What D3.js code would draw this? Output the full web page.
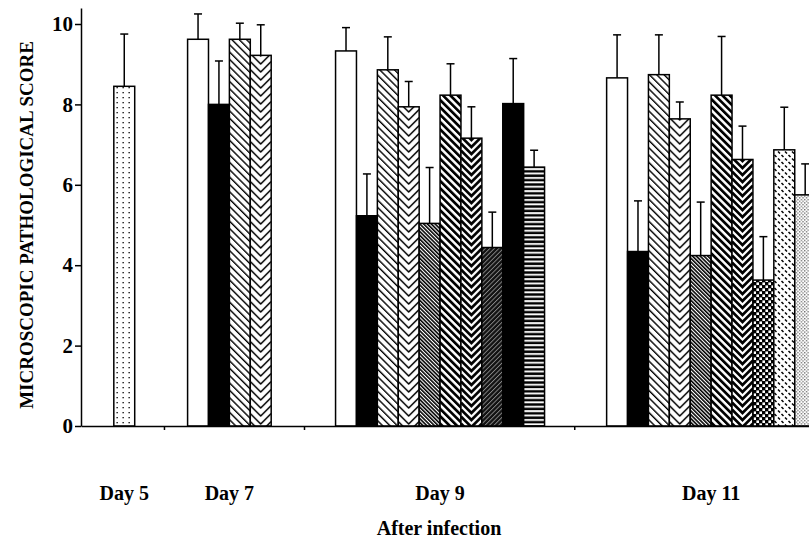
<!DOCTYPE html>
<html>
<head>
<meta charset="utf-8">
<script src="https://cdn.jsdelivr.net/npm/d3@7"></script>
<style>
  html, body { margin: 0; padding: 0; background: #fff; }
  svg { display: block; }
  text { font-family: "Liberation Serif", "Times New Roman", serif; font-weight: bold; fill: #000; }
</style>
</head>
<body>
<script>
// ---------------- DATA ----------------
const days = ["Day 5", "Day 7", "Day 9", "Day 11"];
const yTicks = [0, 2, 4, 6, 8, 10];
const yTitle = "MICROSCOPIC PATHOLOGICAL SCORE";
const xTitle = "After infection";

const day5Scores = [8.45];
const day5Errors = [1.30];
const day5Fills = ["dots"];

const day7Scores = [9.62, 8.00, 9.62, 9.22];
const day7Errors = [0.63, 1.08, 0.40, 0.76];
const day7Fills = ["open", "solid", "hatch", "chevron"];

const day9Scores = [9.33, 5.23, 8.86, 7.94, 5.04, 8.23, 7.16, 4.44, 8.02, 6.44];
const day9Errors = [0.58, 1.04, 0.82, 0.63, 1.39, 0.78, 0.78, 0.88, 1.12, 0.42];
const day9Fills = ["open", "solid", "hatch", "chevron", "fineHatch", "boldHatch", "boldChevron", "grayHatch", "solid", "hstripes"];

const day11Scores = [8.66, 4.34, 8.74, 7.64, 4.24, 8.23, 6.63, 3.63, 6.87, 5.75];
const day11Errors = [1.07, 1.26, 0.99, 0.42, 1.33, 1.46, 0.83, 1.08, 1.06, 0.77];
const day11Fills = ["open", "solid", "hatch", "chevron", "fineHatch", "boldHatch", "boldChevron", "checker", "dashes", "fineDots"];

// ---------------- LAYOUT ----------------
const W = 809, H = 539;
const xLeft = 81;
const unitPx = 20.9;                 // one bar width in px
const dayBounds = [3.97, 10.67, 23.6];   // separators between day groups (bar units)
const clusterCenters = [2.07, 7.10, 17.18, 30.15]; // bar-unit centers of each day cluster

const groups = [
  { day: days[0], scores: day5Scores, errors: day5Errors, fills: day5Fills },
  { day: days[1], scores: day7Scores, errors: day7Errors, fills: day7Fills },
  { day: days[2], scores: day9Scores, errors: day9Errors, fills: day9Fills },
  { day: days[3], scores: day11Scores, errors: day11Errors, fills: day11Fills }
];

const bars = [];
groups.forEach((g, gi) => {
  const n = g.scores.length;
  const start = clusterCenters[gi] - n / 2;
  g.scores.forEach((v, i) => {
    bars.push({ id: gi + "_" + i, u0: start + i, u1: start + i + 1, value: v, err: g.errors[i], fill: g.fills[i] });
  });
});

const x = d3.scaleLinear().domain([0, (W - xLeft) / unitPx]).range([xLeft, W]);
const yUnit = 40.2, y0 = 426;
const y = d3.scaleLinear().domain([0, 10.4]).range([y0, y0 - 10.4 * yUnit]);

const svg = d3.select("body").append("svg").attr("width", W).attr("height", H);
const defs = svg.append("defs");

// ---------------- PATTERNS ----------------
function stripePattern(id, spacing, stripeW, angle, bg, fg) {
  const p = defs.append("pattern").attr("id", id).attr("patternUnits", "userSpaceOnUse")
    .attr("width", spacing).attr("height", spacing).attr("patternTransform", `rotate(${angle})`);
  p.append("rect").attr("width", spacing).attr("height", spacing).attr("fill", bg);
  p.append("rect").attr("x", 0).attr("width", stripeW).attr("height", spacing).attr("fill", fg);
}
stripePattern("hatch", 5.2, 1.4, -45, "#fff", "#000");
stripePattern("boldHatch", 5.2, 2.7, -45, "#fff", "#000");
stripePattern("fineHatch", 2.7, 1.6, -45, "#fff", "#000");
stripePattern("grayHatch", 3.2, 0.9, 45, "#111", "#8a8a8a");

(function () {
  const p = defs.append("pattern").attr("id", "dots").attr("patternUnits", "userSpaceOnUse").attr("width", 6).attr("height", 5);
  p.append("rect").attr("width", 6).attr("height", 5).attr("fill", "#fff");
  p.append("rect").attr("x", 2.5).attr("y", 2).attr("width", 1.3).attr("height", 1.3).attr("fill", "#000");
})();
(function () {
  const p = defs.append("pattern").attr("id", "hstripes").attr("patternUnits", "userSpaceOnUse").attr("width", 10).attr("height", 4.4);
  p.append("rect").attr("width", 10).attr("height", 4.4).attr("fill", "#000");
  p.append("rect").attr("y", 1).attr("width", 10).attr("height", 1.9).attr("fill", "#fff");
})();
(function () {
  const p = defs.append("pattern").attr("id", "checker").attr("patternUnits", "userSpaceOnUse").attr("width", 6).attr("height", 6);
  p.append("rect").attr("width", 6).attr("height", 6).attr("fill", "#000");
  p.append("rect").attr("x", 0.4).attr("y", 0.4).attr("width", 2.6).attr("height", 2.6).attr("fill", "#fff");
  p.append("rect").attr("x", 3.4).attr("y", 3.4).attr("width", 2.6).attr("height", 2.6).attr("fill", "#fff");
})();
(function () {
  const p = defs.append("pattern").attr("id", "dashes").attr("patternUnits", "userSpaceOnUse").attr("width", 7).attr("height", 7);
  p.append("rect").attr("width", 7).attr("height", 7).attr("fill", "#fff");
  p.append("path").attr("d", "M1,4.5 L3,6.5 M4.5,1 L6.5,3").attr("stroke", "#000").attr("stroke-width", 1.5);
})();
(function () {
  const p = defs.append("pattern").attr("id", "fineDots").attr("patternUnits", "userSpaceOnUse").attr("width", 3.4).attr("height", 3.4);
  p.append("rect").attr("width", 3.4).attr("height", 3.4).attr("fill", "#fff");
  p.append("rect").attr("x", 0.2).attr("y", 0.2).attr("width", 1).attr("height", 1).attr("fill", "#000");
  p.append("rect").attr("x", 1.9).attr("y", 1.9).attr("width", 1).attr("height", 1).attr("fill", "#000");
})();

// chevron (herringbone) patterns are aligned per bar
function chevronPattern(id, bx, bw, period, sw) {
  const p = defs.append("pattern").attr("id", id).attr("patternUnits", "userSpaceOnUse")
    .attr("x", bx).attr("y", 0).attr("width", bw).attr("height", period);
  p.append("rect").attr("width", bw).attr("height", period).attr("fill", "#fff");
  let d = "";
  for (let k = -4; k <= 5; k++) {
    const yy = k * period;
    d += `M0,${yy - bw / 2} L${bw / 2},${yy} L${bw},${yy - bw / 2} `;
  }
  p.append("path").attr("d", d).attr("fill", "none").attr("stroke", "#000").attr("stroke-width", sw);
}

function fillFor(b) {
  const bx = x(b.u0), bw = x(b.u1) - x(b.u0);
  if (b.fill === "open") return "#fff";
  if (b.fill === "solid") return "#000";
  if (b.fill === "chevron") { chevronPattern("chev" + b.id, bx, bw, 8, 1.5); return `url(#chev${b.id})`; }
  if (b.fill === "boldChevron") { chevronPattern("chev" + b.id, bx, bw, 7, 2.7); return `url(#chev${b.id})`; }
  return `url(#${b.fill})`;
}

// ---------------- BARS ----------------
svg.append("g").selectAll("rect").data(bars).join("rect")
  .attr("x", d => x(d.u0))
  .attr("y", d => y(d.value))
  .attr("width", d => x(d.u1) - x(d.u0))
  .attr("height", d => y(0) - y(d.value))
  .attr("fill", d => fillFor(d))
  .attr("stroke", "#000")
  .attr("stroke-width", 1.5);

// ---------------- ERROR BARS ----------------
const eb = svg.append("g").attr("stroke", "#000").attr("stroke-width", 1.5);
eb.selectAll("line.v").data(bars).join("line").attr("class", "v")
  .attr("x1", d => x((d.u0 + d.u1) / 2)).attr("x2", d => x((d.u0 + d.u1) / 2))
  .attr("y1", d => y(d.value)).attr("y2", d => y(d.value + d.err));
eb.selectAll("line.c").data(bars).join("line").attr("class", "c")
  .attr("x1", d => x((d.u0 + d.u1) / 2) - 4).attr("x2", d => x((d.u0 + d.u1) / 2) + 4)
  .attr("y1", d => y(d.value + d.err)).attr("y2", d => y(d.value + d.err));

// ---------------- AXES ----------------
const yAxis = svg.append("g").attr("transform", `translate(${xLeft},0)`)
  .call(d3.axisLeft(y).tickValues(yTicks).tickSize(6).tickSizeOuter(0).tickPadding(2).tickFormat(d3.format("d")));
yAxis.selectAll("path, line").attr("stroke", "#000").attr("stroke-width", 1.5);
yAxis.selectAll("text").style("font-size", "21px").style("font-family", "'Liberation Serif', serif").style("font-weight", "bold");

const xAxis = svg.append("g").attr("transform", `translate(0,${y0})`)
  .call(d3.axisBottom(x).tickValues(dayBounds).tickSize(4).tickSizeOuter(0).tickFormat(""));
xAxis.selectAll("path, line").attr("stroke", "#000").attr("stroke-width", 1.5);

// day labels
svg.append("g").selectAll("text").data(days).join("text")
  .attr("x", (d, i) => x(clusterCenters[i]))
  .attr("y", 500)
  .attr("text-anchor", "middle")
  .style("font-size", "20px")
  .text(d => d);

// axis titles
svg.append("text").attr("x", 439).attr("y", 535).attr("text-anchor", "middle")
  .style("font-size", "20px").text(xTitle);
svg.append("text").attr("transform", "translate(33,225) rotate(-90)").attr("text-anchor", "middle")
  .style("font-size", "19px").text(yTitle);
</script>
</body>
</html>
